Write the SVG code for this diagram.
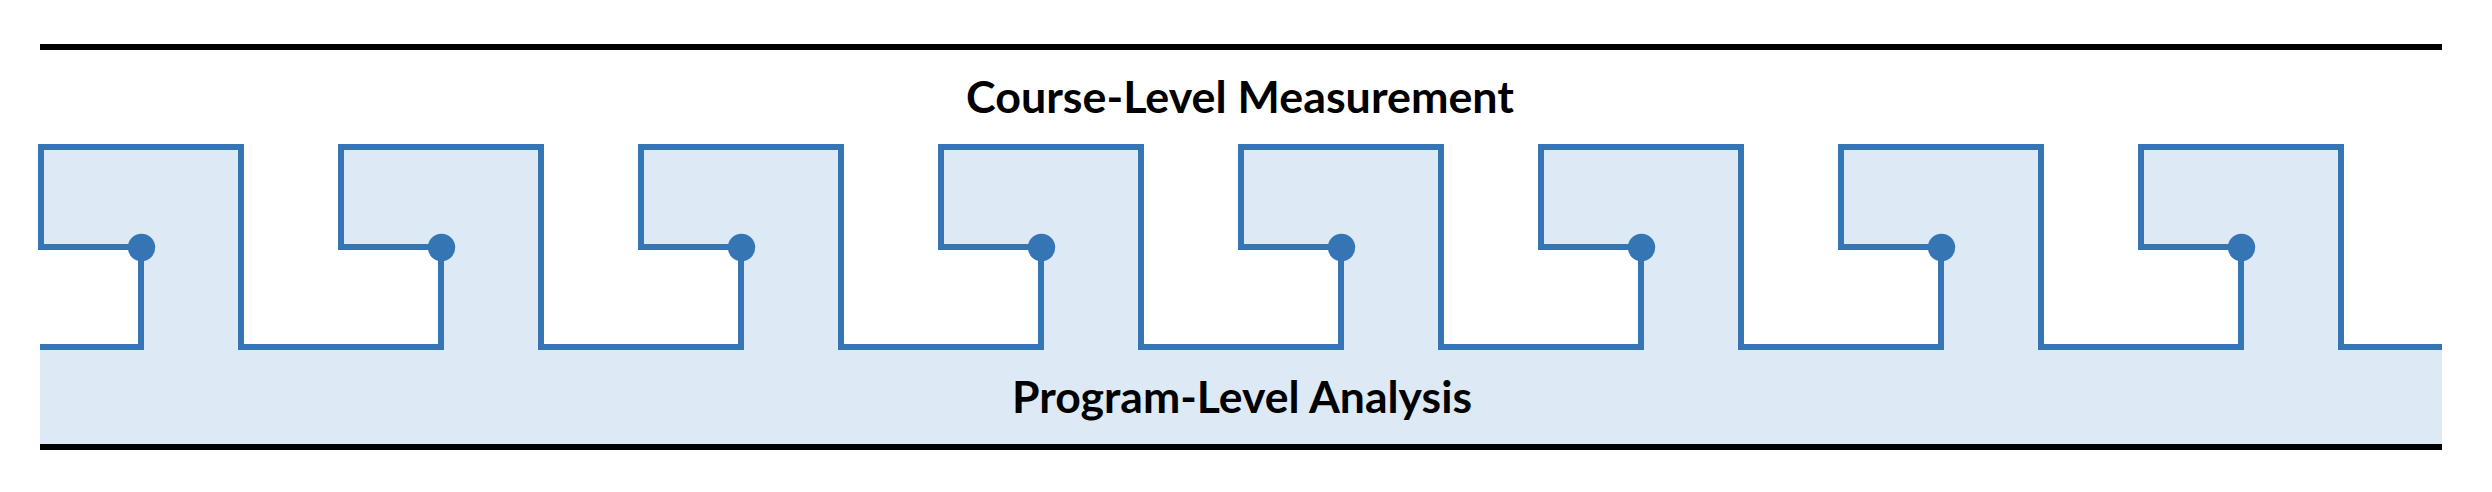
<svg xmlns="http://www.w3.org/2000/svg" width="2492" height="492" viewBox="0 0 2492 492">
  <style>
    .rule { stroke: #000000; stroke-width: 6; fill: none; }
    .outline { stroke: #3575B4; stroke-width: 6; fill: none; stroke-linejoin: miter; stroke-linecap: butt; }
    .band { fill: #DDEAF6; stroke: none; }
    .dot { fill: #3575B4; }
    .label { font-family: Lato, "Open Sans", "Liberation Sans", sans-serif; font-weight: bold; font-size: 43px; fill: #000000; text-anchor: middle; }
  </style>
  <rect width="2492" height="492" fill="#FFFFFF"/>
  <g id="program-band">
    <path class="band" d="M40,347 H141 V247 H41 V147 H241 V347 H441 V247 H341 V147 H541 V347 H741 V247 H641 V147 H841 V347 H1041 V247 H941 V147 H1141 V347 H1341 V247 H1241 V147 H1441 V347 H1641 V247 H1541 V147 H1741 V347 H1941 V247 H1841 V147 H2041 V347 H2241 V247 H2141 V147 H2341 V347 H2442 V447 H40 Z"/>
  </g>
  <g id="connectors">
    <path class="outline" d="M40,347 H141 V247 H41 V147 H241 V347 H441 V247 H341 V147 H541 V347 H741 V247 H641 V147 H841 V347 H1041 V247 H941 V147 H1141 V347 H1341 V247 H1241 V147 H1441 V347 H1641 V247 H1541 V147 H1741 V347 H1941 V247 H1841 V147 H2041 V347 H2241 V247 H2141 V147 H2341 V347 H2442"/>
  </g>
  <g id="dots">
    <circle id="dot1" class="dot" cx="141.5" cy="247.5" r="13.7"/>
    <circle id="dot2" class="dot" cx="441.5" cy="247.5" r="13.7"/>
    <circle id="dot3" class="dot" cx="741.5" cy="247.5" r="13.7"/>
    <circle id="dot4" class="dot" cx="1041.5" cy="247.5" r="13.7"/>
    <circle id="dot5" class="dot" cx="1341.5" cy="247.5" r="13.7"/>
    <circle id="dot6" class="dot" cx="1641.5" cy="247.5" r="13.7"/>
    <circle id="dot7" class="dot" cx="1941.5" cy="247.5" r="13.7"/>
    <circle id="dot8" class="dot" cx="2241.5" cy="247.5" r="13.7"/>
  </g>
  <g id="rules">
    <line class="rule" x1="40" y1="47" x2="2442" y2="47"/>
    <line class="rule" x1="40" y1="447" x2="2442" y2="447"/>
  </g>
  <g id="course-level">
    <text class="label" x="1240" y="113" textLength="548" lengthAdjust="spacingAndGlyphs">Course-Level Measurement</text>
  </g>
  <g id="program-level">
    <text class="label" x="1242" y="413" textLength="460" lengthAdjust="spacingAndGlyphs">Program-Level Analysis</text>
  </g>
</svg>
